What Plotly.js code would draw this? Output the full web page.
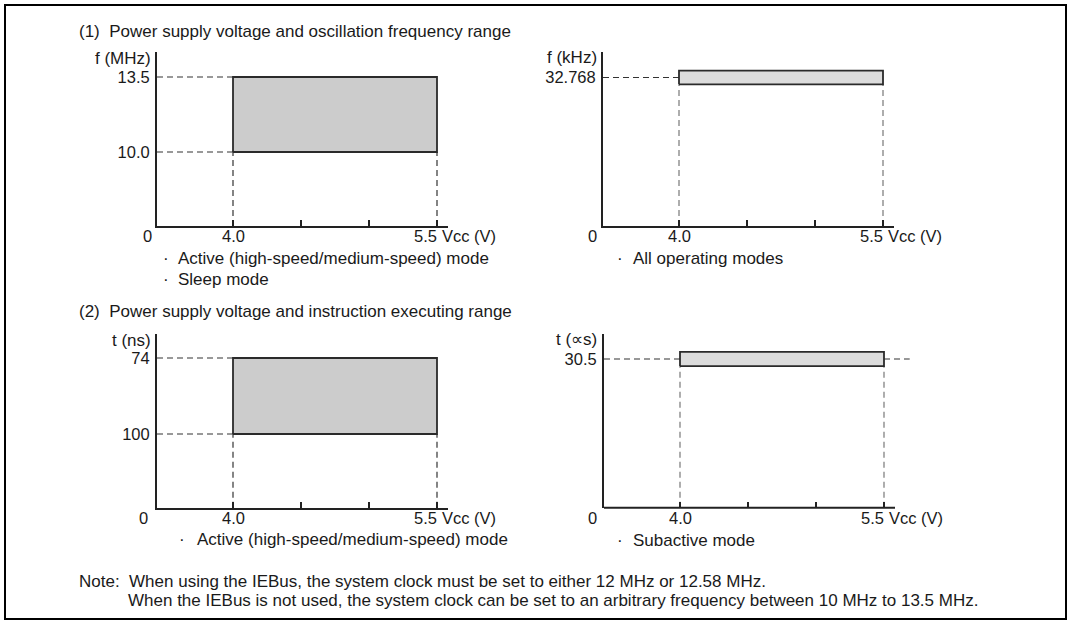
<!DOCTYPE html>
<html>
<head>
<meta charset="utf-8">
<script src="https://cdn.plot.ly/plotly-3.0.1.min.js"></script>
<style>html,body{margin:0;padding:0;background:#fff;}#chart{width:1075px;height:621px;}</style>
</head>
<body>
<div id="chart"></div>
<script>
// ---------------- data ----------------
const vccRange = [4.0, 5.5];            // Vcc (V) operating range
const vccTicks = [4.0, 4.5, 5.0, 5.5];  // x tick positions
const vccTickText = ["4.0", "", "", "5.5"];
const vccUnit = "Vcc (V)";
const fMainMHz = [10.0, 13.5];          // main clock range (MHz)
const fSubKHz = [32.768];               // subclock (kHz)
const tMainNs = [100, 74];              // instruction time, main (ns)
const tSubUs = [30.5];                  // instruction time, sub (∝s)
const fMainTickText = ["10.0", "13.5"];
const fSubTickText = ["32.768"];
const tMainTickText = ["100", "74"];
const tSubTickText = ["30.5"];

// ---------------- style / geometry ----------------
const W = 1075, H = 621;
const FONT = "Liberation Sans, Arial, Helvetica, sans-serif";
const FS = 17;
const TFS = 16.5;
const TXT = "#1a1a1a";
const px = v => v / W;
const py = v => 1 - v / H;

const XL = 3.4412;                      // broken axis origin (drawn as "0")
const XR = 5.5809;
const XR_D = 5.69;                      // wider plot area for panel 4 (dashed run-out)

const A = {yr: [6.547, 14.667]};
const B = {yr: [0, 38.39], band: 1.5};
const C = {yr: [125.2, 65.79]};
const D = {yr: [0, 35.63], band: 1.47};

const dashDark = {color: "#333", width: 1.2, dash: "6px,4px"};
const dashGrey = {color: "#777", width: 1.2, dash: "6px,4px"};
const edge = {color: "#2a2a2a", width: 1.8};

const traces = [];
function seg(x, y, line, xa, ya) {
  traces.push({type: "scatter", mode: "lines", x: x, y: y, line: line,
    xaxis: xa, yaxis: ya, hoverinfo: "skip", showlegend: false});
}
function box(x0, x1, y0, y1, fill, xa, ya) {
  traces.push({type: "scatter", mode: "lines", fill: "toself", fillcolor: fill,
    x: [x0, x1, x1, x0, x0], y: [y0, y0, y1, y1, y0], line: edge,
    xaxis: xa, yaxis: ya, hoverinfo: "skip", showlegend: false});
}

// Panel A: f (MHz)
fMainMHz.forEach(f => seg([XL, vccRange[0]], [f, f], dashDark, "x", "y"));
vccRange.forEach(v => seg([v, v], [A.yr[0], fMainMHz[0]], dashDark, "x", "y"));
box(vccRange[0], vccRange[1], fMainMHz[0], fMainMHz[1], "#cccccc", "x", "y");

// Panel B: f (kHz)
fSubKHz.forEach(f => seg([XL, vccRange[0]], [f, f], dashDark, "x2", "y2"));
vccRange.forEach(v => seg([v, v], [B.yr[0], fSubKHz[0] - B.band], dashGrey, "x2", "y2"));
box(vccRange[0], vccRange[1], fSubKHz[0] - B.band, fSubKHz[0] + B.band, "#dcdcdc", "x2", "y2");

// Panel C: t (ns) – inverted
tMainNs.forEach(t => seg([XL, vccRange[0]], [t, t], dashDark, "x3", "y3"));
vccRange.forEach(v => seg([v, v], [C.yr[0], tMainNs[0]], dashDark, "x3", "y3"));
box(vccRange[0], vccRange[1], tMainNs[0], tMainNs[1], "#cccccc", "x3", "y3");

// Panel D: t (∝s)
tSubUs.forEach(t => {
  seg([XL, vccRange[0]], [t, t], dashDark, "x4", "y4");
  seg([vccRange[1], XR_D], [t, t], dashDark, "x4", "y4");
});
vccRange.forEach(v => seg([v, v], [D.yr[0], tSubUs[0] - D.band], dashGrey, "x4", "y4"));
box(vccRange[0], vccRange[1], tSubUs[0] - D.band, tSubUs[0] + D.band, "#dcdcdc", "x4", "y4");

function xAxis(dom, anchor, range, showline) {
  return {domain: dom, anchor: anchor, range: range, showgrid: false, zeroline: false,
    showline: showline, linecolor: "#222", linewidth: 2, ticks: "inside", ticklen: 6,
    tickwidth: 1.5, tickcolor: "#222", tickvals: vccTicks, ticktext: vccTicks.map(() => ""),
    showticklabels: false, fixedrange: true};
}
function yAxis(dom, anchor, range, vals, text) {
  return {domain: dom, anchor: anchor, range: range, showgrid: false, zeroline: false,
    showline: true, linecolor: "#222", linewidth: 2, ticks: "", tickvals: vals, ticktext: text,
    ticklabelstandoff: 2,
    tickfont: {family: FONT, size: TFS, color: TXT}, fixedrange: true};
}

const topY = [py(226), py(52)];
const botY = [py(507.7), py(334)];

const layout = {
  width: W, height: H, margin: {l: 0, r: 0, t: 0, b: 0},
  paper_bgcolor: "#fff", plot_bgcolor: "rgba(0,0,0,0)", showlegend: false,
  font: {family: FONT, size: FS, color: TXT},
  xaxis: xAxis([px(157), px(448)], "y", [XL, XR], true),
  yaxis: yAxis(topY, "x", A.yr, fMainMHz, fMainTickText),
  xaxis2: xAxis([px(603), px(894)], "y2", [XL, XR], true),
  yaxis2: yAxis(topY, "x2", B.yr, fSubKHz, fSubTickText),
  xaxis3: xAxis([px(157), px(448)], "y3", [XL, XR], true),
  yaxis3: yAxis(botY, "x3", C.yr, tMainNs, tMainTickText),
  xaxis4: xAxis([px(604), px(604 + (XR_D - XL) * 136)], "y4", [XL, XR_D], false),
  yaxis4: yAxis(botY, "x4", D.yr, tSubUs, tSubTickText),
  shapes: [
    {type: "rect", xref: "paper", yref: "paper", x0: px(5), x1: px(1066), y0: py(5), y1: py(619),
      line: {color: "#000", width: 2}, fillcolor: "rgba(0,0,0,0)"},
    {type: "line", xref: "paper", yref: "paper", x0: px(604), x1: px(895), y0: py(507.7), y1: py(507.7),
      line: {color: "#222", width: 2}}
  ],
  annotations: []
};

function note(text, x, y, anchor, size) {
  layout.annotations.push({text: text, xref: "paper", yref: "paper", x: px(x), y: py(y),
    xanchor: anchor || "left", yanchor: "middle", showarrow: false,
    font: {family: FONT, size: size || FS, color: TXT}});
}
// x-axis labels placed on the data scale
function xLabels(xa, yPix, zeroPix) {
  note("0", zeroPix, yPix, "center", TFS);
  vccTicks.forEach((v, i) => {
    const t = vccTickText[i];
    if (!t) return;
    const last = i === vccTicks.length - 1;
    layout.annotations.push({text: t, xref: xa, yref: "paper", x: v, y: py(yPix),
      xanchor: last ? "right" : "center", xshift: last ? 2 : 0, yanchor: "middle",
      showarrow: false, font: {family: FONT, size: TFS, color: TXT}});
    if (last) layout.annotations.push({text: vccUnit, xref: xa, yref: "paper", x: v, y: py(yPix),
      xanchor: "left", xshift: 3, yanchor: "middle", showarrow: false,
      font: {family: FONT, size: TFS, color: TXT}});
  });
}
xLabels("x", 236, 147);
xLabels("x2", 236, 593);
xLabels("x3", 518, 143);
xLabels("x4", 518, 593);

const sp = "\u00a0\u00a0";
note("(1)" + sp + "Power supply voltage and oscillation frequency range", 77, 31);
note("(2)" + sp + "Power supply voltage and instruction executing range", 77, 311);
note("f (MHz)", 153, 59, "right");
note("f (kHz)", 599, 58, "right");
note("t (ns)", 153, 340, "right");
note("t (\u221ds)", 599, 339, "right");

function bullet(text, xb, xt, y) {
  note("\u00b7", xb, y, "center");
  note(text, xt, y);
}
bullet("Active (high-speed/medium-speed) mode", 166, 176, 258);
bullet("Sleep mode", 166, 176, 279);
bullet("All operating modes", 620, 631, 258);
bullet("Active (high-speed/medium-speed) mode", 182, 195, 539);
bullet("Subactive mode", 620, 631, 540);
note("Note:" + sp + "When using the IEBus, the system clock must be set to either 12 MHz or 12.58 MHz.", 77, 581);
note("When the IEBus is not used, the system clock can be set to an arbitrary frequency between 10 MHz to 13.5 MHz.", 126, 600);

Plotly.newPlot("chart", traces, layout, {staticPlot: true, displayModeBar: false});
</script>
</body>
</html>
